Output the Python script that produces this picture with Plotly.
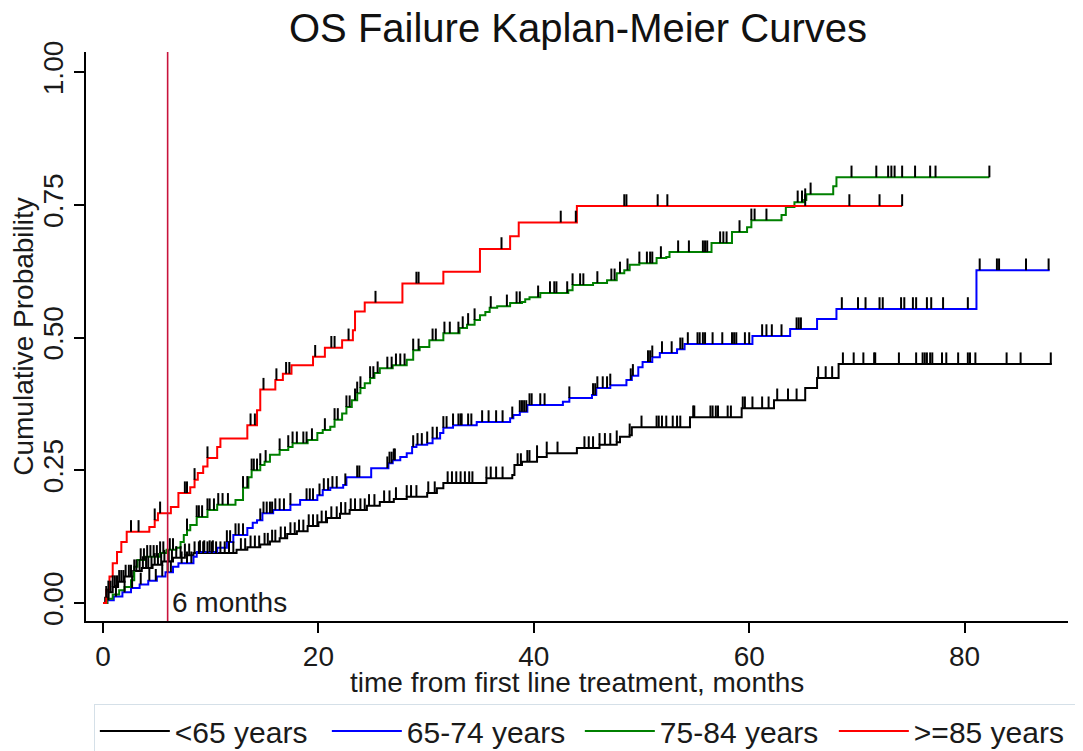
import numpy as np
import plotly.graph_objects as go

# ---------------- data ----------------
groups = ["<65 years", "65-74 years", "75-84 years", ">=85 years"]
colors = ["#000000", "#0000ff", "#008000", "#ff0000"]

# step times (months) and cumulative failure probability after each step
t_lt65 = [0, 0.2, 0.5, 0.9, 1.4, 2.0, 2.8, 3.6, 4.6, 5.5, 6.5, 7.6, 8.4, 12.4, 13.4, 14.6, 15.5,
          16.4, 17.1, 18.0, 19.0, 20.0, 20.8, 22.0, 22.9, 24.5, 25.7, 27.0, 28.2, 30.1, 31.0, 31.6,
          35.6, 38.0, 38.2, 38.9, 40.3, 41.2, 44.0, 46.1, 47.7, 48.0, 48.9, 49.1, 54.5, 59.3, 62.3,
          65.2, 66.3, 68.3, 88.1]
f_lt65 = [0, 0.01, 0.02, 0.03, 0.04, 0.05, 0.06, 0.066, 0.072, 0.078, 0.085, 0.09, 0.094, 0.1,
          0.105, 0.11, 0.116, 0.122, 0.13, 0.135, 0.145, 0.152, 0.16, 0.168, 0.175, 0.183, 0.19,
          0.196, 0.2, 0.207, 0.216, 0.226, 0.235, 0.241, 0.26, 0.266, 0.275, 0.282, 0.292, 0.298,
          0.303, 0.313, 0.316, 0.331, 0.35, 0.367, 0.382, 0.405, 0.424, 0.45, 0.45]

t_6574 = [0, 0.4, 1.0, 1.8, 2.6, 3.4, 4.2, 5.0, 5.8, 6.5, 7.0, 8.4, 8.7, 10.6, 11.5, 12.1, 13.4,
          13.9, 14.3, 14.8, 15.8, 17.4, 18.3, 19.9, 20.4, 21.1, 22.3, 22.6, 24.9, 26.5, 26.9, 27.6,
          28.2, 28.7, 29.1, 30.1, 30.6, 31.3, 31.6, 32.5, 34.7, 37.8, 38.1, 38.7, 39.4, 42.7, 43.3,
          45.4, 45.8, 47.1, 48.6, 49.1, 49.7, 50.1, 51.0, 51.7, 53.3, 54.0, 60.3, 63.8, 66.3, 68.1,
          81.1, 87.9]
f_6574 = [0, 0.005, 0.012, 0.02, 0.028, 0.035, 0.042, 0.05, 0.058, 0.068, 0.075, 0.087, 0.096,
          0.104, 0.115, 0.128, 0.141, 0.151, 0.156, 0.169, 0.175, 0.185, 0.194, 0.203, 0.213, 0.217,
          0.222, 0.237, 0.254, 0.263, 0.269, 0.275, 0.282, 0.294, 0.298, 0.301, 0.31, 0.32, 0.33,
          0.335, 0.341, 0.348, 0.354, 0.36, 0.373, 0.379, 0.386, 0.392, 0.405, 0.41, 0.42, 0.428,
          0.444, 0.454, 0.463, 0.471, 0.478, 0.488, 0.503, 0.516, 0.535, 0.554, 0.627, 0.627]

t_7584 = [0, 0.4, 0.9, 1.5, 2.0, 2.6, 2.9, 3.2, 3.9, 5.3, 5.9, 6.8, 7.2, 7.5, 7.8, 8.1, 8.7, 9.7,
          10.6, 12.3, 13.0, 13.5, 13.8, 14.6, 15.0, 15.5, 16.4, 17.2, 17.6, 19.0, 19.9, 20.4, 21.1,
          21.5, 22.2, 22.6, 23.1, 23.6, 23.9, 24.3, 24.8, 25.2, 25.7, 26.9, 28.2, 28.8, 29.4, 30.3,
          31.6, 33.1, 33.8, 34.5, 35.0, 35.5, 35.9, 36.6, 37.8, 38.9, 39.2, 39.6, 40.6, 43.2, 43.6,
          45.5, 46.8, 47.7, 48.4, 48.9, 49.8, 51.4, 52.3, 52.6, 56.5, 58.4, 59.8, 60.2, 63.0, 63.4,
          64.2, 65.1, 65.3, 67.8, 68.1, 82.3]
f_7584 = [0, 0.008, 0.016, 0.024, 0.03, 0.043, 0.068, 0.081, 0.087, 0.094, 0.1, 0.104, 0.115,
          0.128, 0.137, 0.147, 0.162, 0.175, 0.185, 0.194, 0.217, 0.237, 0.25, 0.26, 0.266, 0.279,
          0.288, 0.294, 0.301, 0.307, 0.32, 0.326, 0.332, 0.345, 0.357, 0.369, 0.382, 0.395, 0.405,
          0.414, 0.424, 0.433, 0.442, 0.448, 0.458, 0.476, 0.482, 0.495, 0.508, 0.518, 0.524, 0.533,
          0.542, 0.548, 0.556, 0.559, 0.565, 0.567, 0.572, 0.576, 0.584, 0.589, 0.599, 0.603, 0.608,
          0.621, 0.627, 0.637, 0.64, 0.65, 0.652, 0.661, 0.678, 0.699, 0.708, 0.721, 0.731, 0.746,
          0.755, 0.759, 0.77, 0.785, 0.802, 0.802]

t_85 = [0, 0.3, 0.6, 0.9, 1.3, 1.7, 2.2, 4.3, 4.8, 5.1, 6.3, 7.0, 8.1, 8.5, 8.8, 9.3, 9.7, 10.6,
        10.9, 13.4, 14.3, 14.6, 16.0, 16.7, 17.5, 19.5, 20.6, 22.2, 23.2, 23.4, 24.3, 27.8, 31.6,
        35.0, 37.8, 38.6, 44.0, 74.2]
f_85 = [0, 0.025, 0.05, 0.075, 0.096, 0.115, 0.134, 0.143, 0.156, 0.169, 0.181, 0.207, 0.218,
        0.232, 0.245, 0.257, 0.273, 0.294, 0.31, 0.335, 0.363, 0.402, 0.42, 0.432, 0.448, 0.464,
        0.481, 0.495, 0.514, 0.549, 0.566, 0.602, 0.624, 0.667, 0.691, 0.717, 0.748, 0.748]

# censoring times (months)
c_lt65 = [0.3, 0.5, 0.7, 0.9, 1.1, 1.3, 1.5, 1.7, 1.9, 2.1, 2.4, 2.6, 2.9, 3.1, 3.4, 3.7, 4.0, 4.2,
          4.5, 4.8, 5.1, 5.4, 5.7, 6.1, 6.4, 6.8, 7.2, 7.6, 8.0, 8.5, 8.9, 9.3, 9.7, 10.1, 10.5,
          10.9, 11.3, 11.7, 12.1, 12.8, 13.2, 13.7, 14.1, 14.5, 15.0, 15.3, 15.7, 16.0, 16.5, 16.9,
          17.4, 17.8, 18.2, 18.6, 19.1, 19.5, 19.9, 20.3, 20.7, 21.2, 21.7, 22.1, 22.5, 23.0, 23.4,
          23.9, 24.3, 24.7, 25.2, 26.1, 26.6, 27.2, 28.2, 28.6, 29.1, 30.2, 30.8, 32.0, 32.4, 32.8,
          33.2, 33.6, 34.0, 34.3, 35.6, 36.0, 36.5, 37.1, 38.5, 38.8, 39.4, 39.6, 40.3, 41.2, 42.2,
          44.7, 45.1, 45.5, 46.1, 46.6, 47.1, 47.7, 48.9, 50.0, 51.4, 51.6, 51.9, 52.3, 52.9, 53.3,
          53.6, 54.8, 54.9, 56.4, 56.6, 56.9, 57.1, 58.0, 58.3, 59.4, 59.6, 60.3, 61.2, 61.8, 62.6,
          63.6, 64.4, 66.4, 67.1, 67.7, 68.7, 69.7, 70.6, 71.6, 71.7, 73.9, 75.5, 76.1, 76.3, 76.5,
          76.8, 77.0, 77.9, 78.3, 79.4, 80.3, 80.5, 81.0, 83.9, 85.2, 88.0]
c_6574 = [0.5, 1.2, 2.0, 2.7, 3.5, 4.3, 4.9, 5.5, 6.0, 6.3, 7.3, 7.8, 8.2, 9.0, 9.4, 9.9, 10.2,
          11.5, 11.8, 12.3, 12.6, 13.0, 14.6, 14.9, 15.2, 15.5, 15.7, 16.0, 16.4, 16.8, 17.4, 18.9,
          19.2, 19.5, 20.1, 20.5, 20.9, 21.3, 21.7, 22.5, 23.6, 23.8, 26.4, 26.6, 26.8, 27.0, 27.1,
          28.8, 29.2, 29.6, 30.1, 30.6, 31.0, 31.6, 31.9, 32.5, 33.0, 33.2, 33.3, 33.9, 34.2, 35.2,
          35.8, 36.5, 37.1, 38.0, 38.7, 38.9, 39.1, 39.3, 39.6, 39.8, 40.6, 41.0, 43.3, 45.5, 45.7,
          45.9, 46.4, 46.8, 47.1, 49.0, 49.2, 50.6, 50.8, 51.0, 51.9, 52.8, 53.6, 53.8, 54.3, 55.2,
          55.4, 55.7, 55.9, 56.6, 57.5, 58.4, 58.6, 58.8, 59.6, 60.0, 61.2, 61.6, 62.1, 63.0, 64.4,
          64.6, 64.8, 68.6, 70.1, 70.8, 72.1, 72.4, 74.1, 74.4, 75.2, 75.5, 76.5, 76.9, 78.0, 80.3,
          81.4, 83.0, 83.2, 85.7, 87.8]
c_7584 = [3.5, 3.8, 4.1, 4.4, 4.7, 5.0, 5.3, 5.6, 6.2, 6.5, 7.8, 8.7, 8.9, 9.2, 9.7, 9.9, 10.3,
          10.7, 11.1, 11.6, 13.0, 13.4, 13.8, 14.0, 14.3, 14.6, 15.1, 16.4, 17.2, 17.6, 18.0, 18.6,
          18.9, 19.4, 20.6, 21.5, 21.8, 22.6, 22.9, 23.4, 23.6, 23.9, 24.8, 25.1, 25.5, 26.4, 26.8,
          27.2, 27.6, 28.0, 28.8, 29.3, 30.6, 30.9, 31.7, 32.2, 33.0, 33.4, 33.9, 34.5, 36.0, 37.5,
          38.4, 38.7, 40.4, 41.5, 41.9, 42.1, 43.1, 43.6, 44.3, 44.6, 45.9, 47.2, 47.5, 48.0, 48.7,
          49.8, 50.5, 50.8, 51.0, 51.8, 53.4, 54.4, 55.7, 55.9, 56.1, 57.3, 57.6, 57.9, 59.1, 60.2,
          60.5, 61.6, 64.5, 64.9, 65.2, 65.7, 69.5, 71.8, 72.9, 73.2, 73.5, 74.2, 75.4, 76.8, 77.3,
          82.3]
c_85 = [2.6, 3.3, 4.8, 5.3, 7.6, 7.8, 8.5, 9.7, 13.7, 14.1, 14.9, 16.1, 17.0, 17.3, 19.7, 21.2,
        21.5, 22.8, 25.3, 29.1, 29.3, 37.0, 42.5, 43.9, 48.4, 48.6, 51.5, 52.4, 65.2, 69.3, 72.1,
        74.2]

x_ticks = [0, 20, 40, 60, 80]
y_ticks = [0, 0.25, 0.5, 0.75, 1.0]
y_tick_labels = ["0.00", "0.25", "0.50", "0.75", "1.00"]
x_title = "time from first line treatment, months"
marker_month = 6
marker_text = "6 months"

# ---------------- figure ----------------
FONT = "Liberation Sans, Arial, sans-serif"
TICK_H = 0.022
# the page body has an 8px margin; the figure is sized so it fits the 1083x751 window
FIG_W, FIG_H = 1075, 743
MARGIN = dict(l=78, r=15, t=44, b=130)
PLOT_H = FIG_H - MARGIN["t"] - MARGIN["b"]
legend_widths = [147, 168, 169, 158]

series = [(t_lt65, f_lt65, c_lt65), (t_6574, f_6574, c_6574),
          (t_7584, f_7584, c_7584), (t_85, f_85, c_85)]

fig = go.Figure()
for name, col, lw, (t, f, c) in zip(groups, colors, legend_widths, series):
    fig.add_trace(go.Scatter(x=t, y=f, mode="lines", name=name, legendwidth=lw,
                             line=dict(color=col, width=2, shape="hv")))

for (t, f, c) in series:
    t_arr = np.asarray(t)
    f_arr = np.asarray(f)
    idx = np.searchsorted(t_arr, np.asarray(c), side="right") - 1
    yc = f_arr[np.clip(idx, 0, len(f_arr) - 1)]
    fig.add_trace(go.Scatter(
        x=c, y=yc, mode="markers", showlegend=False, hoverinfo="skip",
        marker=dict(size=1, color="rgba(0,0,0,0)"),
        error_y=dict(type="data", symmetric=False, array=[TICK_H] * len(c),
                     arrayminus=[0] * len(c), width=0, thickness=2, color="#000000")))

fig.add_vline(x=marker_month, line=dict(color="#c8133b", width=1.6))
fig.add_annotation(x=marker_month, y=0, text=marker_text, showarrow=False,
                   xanchor="left", yanchor="middle", xshift=2,
                   font=dict(size=28, color="#1a1a1a", family=FONT))
# x-axis title placed as an annotation to sit closer to the tick labels
fig.add_annotation(x=0.5, xref="paper", y=-61 / PLOT_H, yref="paper", text=x_title,
                   showarrow=False, xanchor="center", yanchor="middle",
                   font=dict(size=28, color="#1a1a1a", family=FONT))

fig.update_layout(
    width=FIG_W, height=FIG_H,
    margin=MARGIN,
    paper_bgcolor="white", plot_bgcolor="white",
    font=dict(family=FONT, color="#1a1a1a"),
    title=dict(text="OS Failure Kaplan-Meier Curves", x=570 / FIG_W, xanchor="center",
               y=1 - 20 / FIG_H, yanchor="middle", yref="container",
               font=dict(size=40, color="#111111", family=FONT)),
    xaxis=dict(range=[-1.58, 89.6], tickvals=x_ticks, ticks="outside", ticklen=10,
               tickwidth=1.5, tickcolor="black", showline=True, linecolor="black",
               linewidth=1.5, showgrid=False, zeroline=False, automargin=False,
               tickfont=dict(size=28, family=FONT)),
    yaxis=dict(range=[-0.034, 1.038], tickvals=y_ticks, ticktext=y_tick_labels,
               tickangle=-90, ticks="outside", ticklen=10, tickwidth=1.5,
               tickcolor="black", showline=True, linecolor="black", linewidth=1.5,
               showgrid=False, zeroline=False, automargin=False,
               tickfont=dict(size=28, family=FONT),
               title=dict(text="Cumulative Probability", font=dict(size=28, family=FONT),
                          standoff=15)),
    legend=dict(orientation="h", x=0.509, xanchor="center", xref="paper",
                y=1 - 696 / FIG_H, yanchor="top", yref="container",
                bordercolor="#d5e0e8", borderwidth=1, font=dict(size=30, family=FONT),
                itemwidth=70, tracegroupgap=0),
    showlegend=True,
)

fig.write_html("out.html")
